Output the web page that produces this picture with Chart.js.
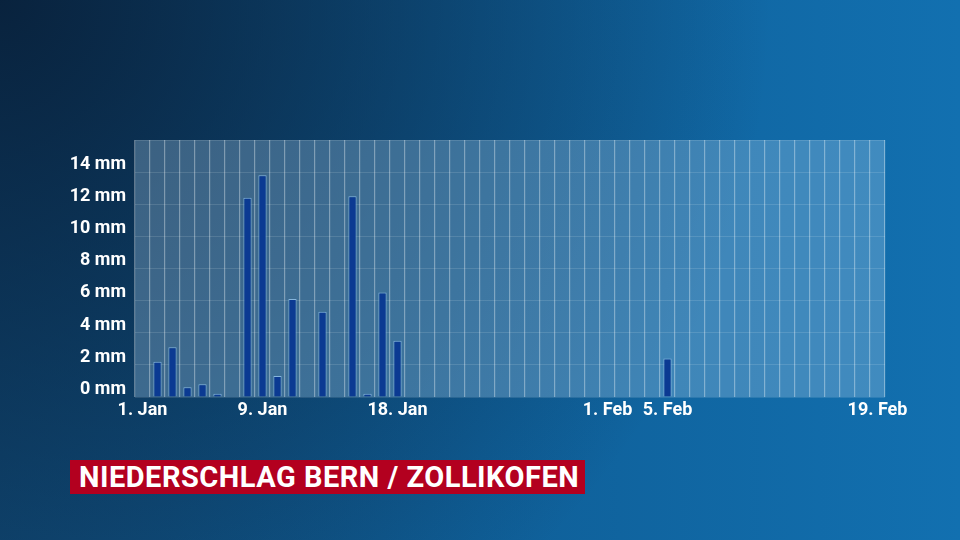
<!DOCTYPE html>
<html>
<head>
<meta charset="utf-8">
<script src="https://cdn.jsdelivr.net/npm/chart.js@4.4.1/dist/chart.umd.min.js"></script>
<style>
  html, body { margin: 0; padding: 0; }
  body {
    width: 960px; height: 540px; overflow: hidden; position: relative;
    background:
      radial-gradient(circle at 0% 0%, rgba(8,30,55,0.9) 0%, rgba(8,30,55,0.45) 35%, rgba(8,30,55,0) 70%),
      linear-gradient(90deg, #104c7a 0%, #0f5f98 50%, #1270b0 100%);
    font-family: Roboto, "Open Sans", sans-serif;
  }
  #wrap { position: absolute; left: 0; top: 0; width: 960px; height: 540px; }
  #titel {
    position: absolute; left: 70px; top: 460px; height: 34px; line-height: 35px;
    padding: 0 6px 0 9px; background: #b3001f; color: #fff;
    font-weight: 700; font-size: 29px; letter-spacing: 0.5px; white-space: nowrap;
  }
</style>
</head>
<body>
<div id="wrap"><canvas id="chart" width="960" height="540"></canvas></div>
<div id="titel">NIEDERSCHLAG BERN / ZOLLIKOFEN</div>
<script>
// --- DATEN ---
// Tage vom 1. Jan bis 19. Feb (50 Tage)
const monate = [['Jan', 31], ['Feb', 19]];
const tage = [];
monate.forEach(([m, n]) => { for (let d = 1; d <= n; d++) tage.push(d + '. ' + m); });

// Niederschlag in mm
const niederschlagJan = [0, 2.2, 3.1, 0.6, 0.8, 0.2, 0, 12.4, 13.8, 1.3, 6.1, 0, 5.3, 0, 12.5, 0.2, 6.5, 3.5,
  0, 0, 0, 0, 0, 0, 0, 0, 0, 0, 0, 0, 0];
const niederschlagFeb = [0, 0, 0, 0, 2.4, 0, 0, 0, 0, 0, 0, 0, 0, 0, 0, 0, 0, 0, 0];
const niederschlag = niederschlagJan.concat(niederschlagFeb);

// angezeigte Achsenbeschriftungen
const xBeschriftung = ['1. Jan', '9. Jan', '18. Jan', '1. Feb', '5. Feb', '19. Feb'];
const yTicks = [0, 2, 4, 6, 8, 10, 12, 14];

// Hintergrund der Zeichenfläche
const plotHintergrund = {
  id: 'plotHintergrund',
  beforeDraw(chart) {
    const { ctx, chartArea: a } = chart;
    ctx.save();
    ctx.fillStyle = 'rgba(160, 200, 230, 0.33)';
    ctx.fillRect(a.left, a.top, a.right - a.left, a.bottom - a.top);
    ctx.restore();
  }
};

const schrift = { family: 'Roboto, "Open Sans", sans-serif', size: 18, weight: '700' };
// kleinere Zeilenhöhe: Beschriftung sitzt knapp über der Gitterlinie
const schriftY = Object.assign({}, schrift, { lineHeight: 0.85 });

new Chart(document.getElementById('chart'), {
  type: 'bar',
  data: {
    labels: tage,
    datasets: [{
      data: niederschlag,
      backgroundColor: '#0b3a92',
      borderColor: '#86b6de',
      borderWidth: 1,
      categoryPercentage: 1,
      barPercentage: 0.55
    }]
  },
  options: {
    responsive: false,
    animation: false,
    layout: { padding: { top: 140, right: 75, left: 0, bottom: 0 } },
    plugins: { legend: { display: false }, tooltip: { enabled: false } },
    scales: {
      x: {
        grid: { color: 'rgba(255,255,255,0.35)', lineWidth: 1.2, drawTicks: false, offset: true },
        border: { display: false },
        ticks: {
          autoSkip: false, maxRotation: 0, color: '#fff', font: schrift, padding: 3,
          callback: function (v) {
            const l = this.getLabelForValue(v);
            return xBeschriftung.includes(l) ? l : '';
          }
        },
        afterFit: s => { s.height = 143; }
      },
      y: {
        min: 0, max: 16,
        grid: { color: 'rgba(255,255,255,0.12)', drawTicks: false },
        border: { display: false },
        afterBuildTicks: s => { s.ticks = yTicks.concat([16]).map(v => ({ value: v })); },
        ticks: {
          autoSkip: false, color: '#fff', font: schriftY, padding: 9,
          callback: v => yTicks.includes(v) ? [v + ' mm', ''] : ''
        },
        afterFit: s => { s.width = 135; }
      }
    }
  },
  plugins: [plotHintergrund]
});
</script>
</body>
</html>
